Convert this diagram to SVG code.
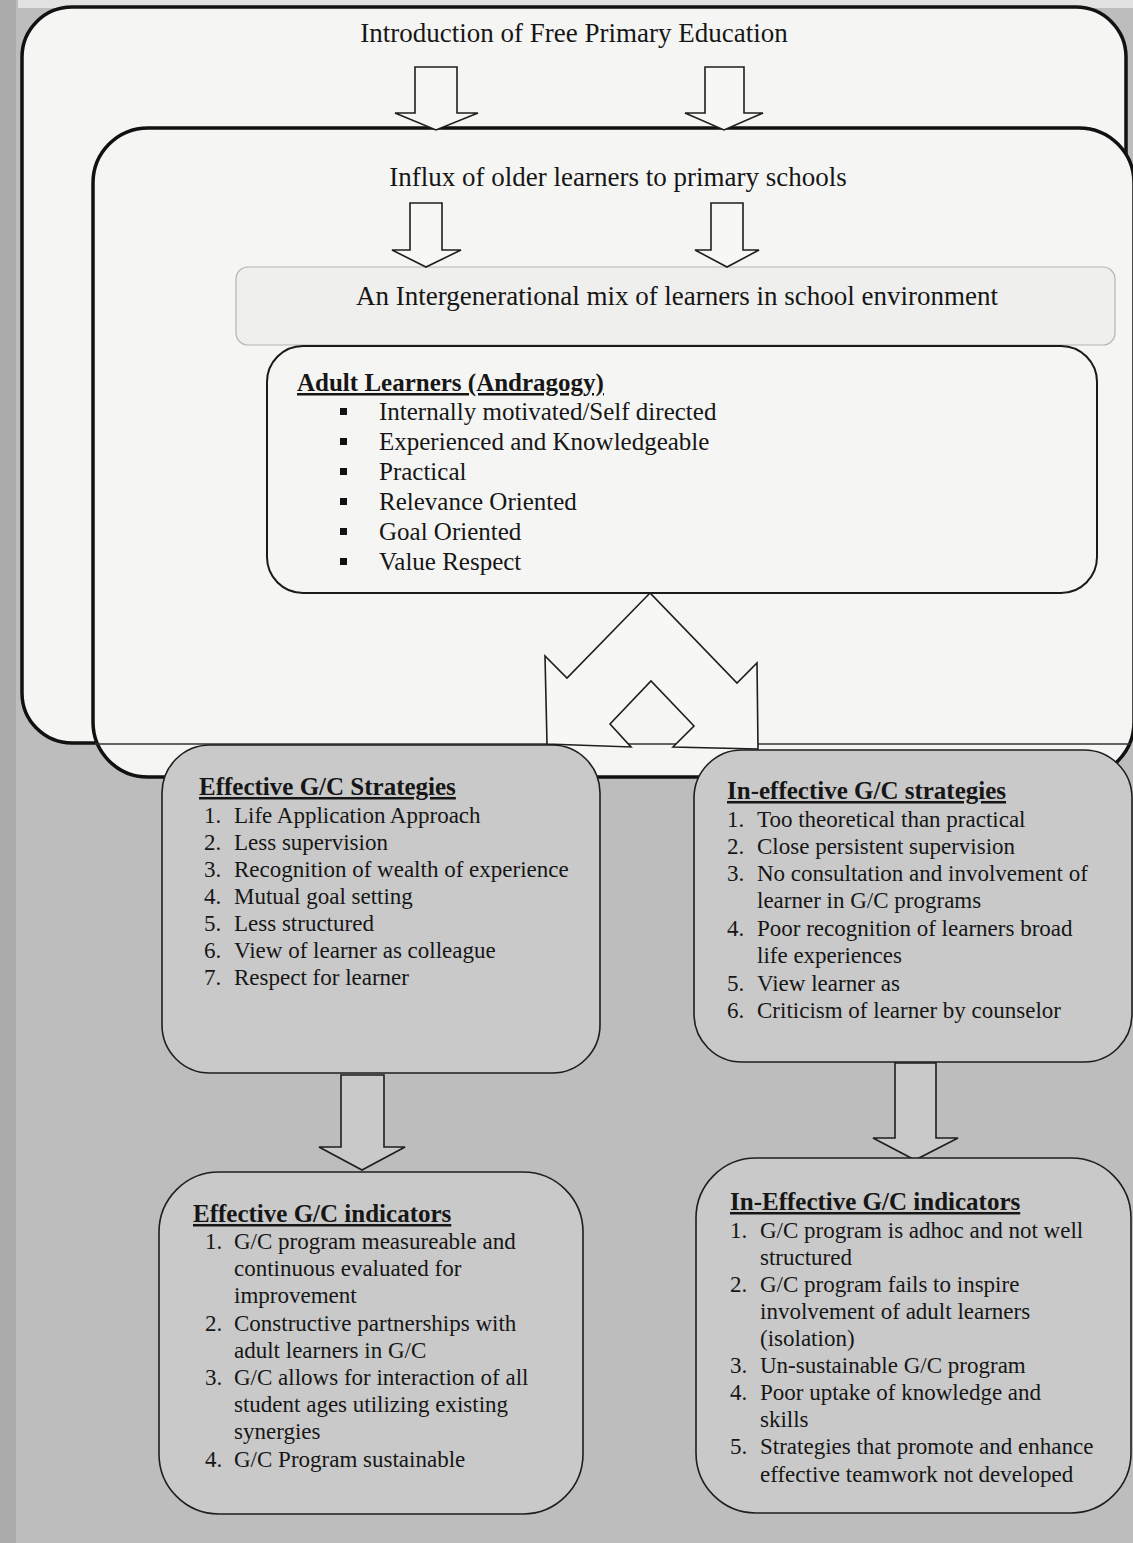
<svg xmlns="http://www.w3.org/2000/svg" width="1133" height="1543" viewBox="0 0 1133 1543">
<style>
  text { font-family: "Liberation Serif", "Times New Roman", serif; fill: #161616; }
  .big { font-size: 27px; }
  .hd { font-size: 25px; font-weight: bold; text-decoration: underline; text-decoration-thickness: 2.5px; }
  .li25 { font-size: 25px; }
  .li { font-size: 23px; }
  .frame { fill: #f5f5f3; stroke: #111; stroke-width: 3.5; }
  .soft { fill: #efefed; stroke: #b4b4b4; stroke-width: 1.2; }
  .adult { fill: #f5f5f3; stroke: #1a1a1a; stroke-width: 2; }
  .gbox { fill: #c9c9c9; stroke: #1e1e1e; stroke-width: 1.6; }
  .arrow { fill: #f7f7f5; stroke: #1e1e1e; stroke-width: 1.6; stroke-linejoin: miter; }
  .garrow { fill: #c9c9c9; stroke: #1e1e1e; stroke-width: 1.6; }
  .bul { fill: #111; }
</style>
<rect x="0" y="0" width="1133" height="1543" fill="#bdbdbd"/>
<rect x="18" y="0" width="1115" height="8" fill="#e2e2e2"/>
<rect x="0" y="0" width="16" height="1543" fill="#ababab"/>

<g id="node-fpe">
  <rect class="frame" x="22" y="7" width="1104" height="736" rx="50" ry="50"/>
  <text class="big" x="574" y="42" text-anchor="middle">Introduction of Free Primary Education</text>
</g>

<g id="node-influx">
  <rect class="frame" x="93" y="128" width="1041" height="649" rx="55" ry="55"/>
  <line x1="95" y1="744" x2="1131" y2="744" stroke="#333" stroke-width="1.4"/>
  <text class="big" x="618" y="186" text-anchor="middle">Influx of older learners to primary schools</text>
</g>

<g id="node-mix">
  <rect class="soft" x="236" y="267" width="879" height="78" rx="12" ry="12"/>
  <text class="big" x="677" y="305" text-anchor="middle">An Intergenerational mix of learners in school environment</text>
</g>

<g id="node-adult">
  <rect class="adult" x="267" y="346" width="830" height="247" rx="36" ry="36"/>
  <text class="hd" x="297" y="391">Adult Learners (Andragogy)</text>
  <rect class="bul" x="340" y="408" width="7" height="7"/>
  <rect class="bul" x="340" y="438" width="7" height="7"/>
  <rect class="bul" x="340" y="468" width="7" height="7"/>
  <rect class="bul" x="340" y="498" width="7" height="7"/>
  <rect class="bul" x="340" y="528" width="7" height="7"/>
  <rect class="bul" x="340" y="558" width="7" height="7"/>
  <text class="li25" x="379" y="420">Internally motivated/Self directed</text>
  <text class="li25" x="379" y="450">Experienced and Knowledgeable</text>
  <text class="li25" x="379" y="480">Practical</text>
  <text class="li25" x="379" y="510">Relevance Oriented</text>
  <text class="li25" x="379" y="540">Goal Oriented</text>
  <text class="li25" x="379" y="570">Value Respect</text>
</g>

<g id="connectors">
  <polygon class="arrow" points="415,67 457,67 457,113 478,113 436,130 395,113 415,113"/>
  <polygon class="arrow" points="705,67 744,67 744,113 763,113 724,130 685,113 705,113"/>
  <polygon class="arrow" points="410,203 442,203 442,250 461,250 426,267 392,250 410,250"/>
  <polygon class="arrow" points="711,203 743,203 743,250 759,250 727,267 695,250 711,250"/>
  <polygon class="arrow" points="650,593 567,678 545,656 547,744 631,747 610,724 651,681 694,726 673,747 758,749 757,663 737,683"/>
  <polygon class="garrow" points="341,1075 384,1075 384,1147 405,1147 362,1170 319,1147 341,1147"/>
  <polygon class="garrow" points="895,1063 936,1063 936,1138 958,1138 915,1160 873,1138 895,1138"/>
</g>

<g id="node-eff-strategies">
  <rect class="gbox" x="162" y="745" width="438" height="328" rx="48" ry="48"/>
  <text class="hd" x="199" y="795">Effective G/C Strategies</text>
  <text class="li" x="204" y="823">1.</text><text class="li" x="234" y="823">Life Application Approach</text>
  <text class="li" x="204" y="850">2.</text><text class="li" x="234" y="850">Less supervision</text>
  <text class="li" x="204" y="877">3.</text><text class="li" x="234" y="877">Recognition of wealth of experience</text>
  <text class="li" x="204" y="904">4.</text><text class="li" x="234" y="904">Mutual goal setting</text>
  <text class="li" x="204" y="931">5.</text><text class="li" x="234" y="931">Less structured</text>
  <text class="li" x="204" y="958">6.</text><text class="li" x="234" y="958">View of learner as colleague</text>
  <text class="li" x="204" y="985">7.</text><text class="li" x="234" y="985">Respect for learner</text>
</g>

<g id="node-ineff-strategies">
  <rect class="gbox" x="694" y="750" width="438" height="312" rx="48" ry="48"/>
  <text class="hd" x="727" y="799">In-effective G/C strategies</text>
  <text class="li" x="727" y="827">1.</text><text class="li" x="757" y="827">Too theoretical than practical</text>
  <text class="li" x="727" y="854">2.</text><text class="li" x="757" y="854">Close persistent supervision</text>
  <text class="li" x="727" y="881">3.</text><text class="li" x="757" y="881">No consultation and involvement of</text>
  <text class="li" x="757" y="908">learner in G/C programs</text>
  <text class="li" x="727" y="936">4.</text><text class="li" x="757" y="936">Poor recognition of learners broad</text>
  <text class="li" x="757" y="963">life experiences</text>
  <text class="li" x="727" y="991">5.</text><text class="li" x="757" y="991">View learner as</text>
  <text class="li" x="727" y="1018">6.</text><text class="li" x="757" y="1018">Criticism of learner by counselor</text>
</g>

<g id="node-eff-indicators">
  <rect class="gbox" x="159" y="1172" width="424" height="342" rx="60" ry="60"/>
  <text class="hd" x="193" y="1222">Effective G/C indicators</text>
  <text class="li" x="205" y="1249">1.</text><text class="li" x="234" y="1249">G/C program measureable and</text>
  <text class="li" x="234" y="1276">continuous evaluated for</text>
  <text class="li" x="234" y="1303">improvement</text>
  <text class="li" x="205" y="1331">2.</text><text class="li" x="234" y="1331">Constructive partnerships with</text>
  <text class="li" x="234" y="1358">adult learners in G/C</text>
  <text class="li" x="205" y="1385">3.</text><text class="li" x="234" y="1385">G/C allows for interaction of all</text>
  <text class="li" x="234" y="1412">student ages utilizing existing</text>
  <text class="li" x="234" y="1439">synergies</text>
  <text class="li" x="205" y="1467">4.</text><text class="li" x="234" y="1467">G/C Program sustainable</text>
</g>

<g id="node-ineff-indicators">
  <rect class="gbox" x="696" y="1158" width="435" height="355" rx="60" ry="60"/>
  <text class="hd" x="730" y="1210">In-Effective G/C indicators</text>
  <text class="li" x="730" y="1238">1.</text><text class="li" x="760" y="1238">G/C program is adhoc and not well</text>
  <text class="li" x="760" y="1265">structured</text>
  <text class="li" x="730" y="1292">2.</text><text class="li" x="760" y="1292">G/C program fails to inspire</text>
  <text class="li" x="760" y="1319">involvement of adult learners</text>
  <text class="li" x="760" y="1346">(isolation)</text>
  <text class="li" x="730" y="1373">3.</text><text class="li" x="760" y="1373">Un-sustainable G/C program</text>
  <text class="li" x="730" y="1400">4.</text><text class="li" x="760" y="1400">Poor uptake of  knowledge and</text>
  <text class="li" x="760" y="1427">skills</text>
  <text class="li" x="730" y="1454">5.</text><text class="li" x="760" y="1454">Strategies that promote and enhance</text>
  <text class="li" x="760" y="1482">effective teamwork not developed</text>
</g>
</svg>
